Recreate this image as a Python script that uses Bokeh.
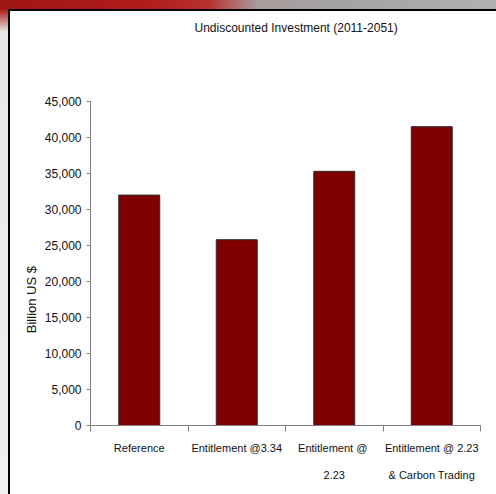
from bokeh.plotting import figure
from bokeh.models import FixedTicker, NumeralTickFormatter, Range1d, Title
from bokeh.embed import file_html
from bokeh.resources import INLINE

# ---- data ----
title_text = "Undiscounted Investment (2011-2051)"
y_label = "Billion US $"
categories = ["Reference", "Entitlement @3.34", "Entitlement  @\n2.23", "Entitlement @ 2.23\n& Carbon Trading"]
investment = [32000, 25800, 35300, 41500]
y_ticks = [0, 5000, 10000, 15000, 20000, 25000, 30000, 35000, 40000, 45000]

FONT = "Liberation Sans, Arial, sans-serif"

n = len(categories)
xc = [i + 0.5 for i in range(n)]

bg = ("linear-gradient(#ffffff,#ffffff) 10px 11px / 100% 100% no-repeat, "
      "linear-gradient(#000000,#000000) 8px 9px / 100% 100% no-repeat, "
      "linear-gradient(to right, #a01515 0%, #b01c1c 30%, #b83030 42%, #a89c9c 52%, #a4a4a4 70%, #b0b0b0 100%) 0 0 / 100% 10px no-repeat, "
      "linear-gradient(#b02020 0px, #b02020 10px, #e6e6e6 32px, #f0f0f0 100%)")

p = figure(width=496, height=494, output_backend="svg", toolbar_location=None,
           x_range=Range1d(0, n), y_range=Range1d(0, 45000),
           min_border_left=90, min_border_right=16, min_border_top=101, min_border_bottom=69,
           border_fill_color=None, background_fill_color="white", outline_line_color=None,
           styles={"background": bg})

p.vbar(x=xc, top=investment, width=0.42, fill_color="#800000", line_color="#2a2a2a", line_width=1)

# spacer panel between frame and title, then the title further out
p.add_layout(Title(text=" ", text_font_size="1px", standoff=58), "above")
p.add_layout(Title(text=title_text, align="left", offset=104, vertical_align="middle", standoff=10,
                   text_font=FONT, text_font_size="12px", text_font_style="normal",
                   text_color="#111111"), "above")

p.grid.visible = False

# y axis (label padded with non-breaking spaces so it sits lower, as in the original)
p.yaxis.ticker = FixedTicker(ticks=y_ticks)
p.yaxis.formatter = NumeralTickFormatter(format="0,0")
p.yaxis.axis_label = y_label + "\u00a0" * 20
p.yaxis.axis_label_text_font = FONT
p.yaxis.axis_label_text_font_size = "13px"
p.yaxis.axis_label_text_font_style = "normal"
p.yaxis.axis_label_text_color = "#111111"
p.yaxis.axis_label_standoff = 3
p.yaxis.major_label_text_font = FONT
p.yaxis.major_label_text_font_size = "12px"
p.yaxis.major_label_text_color = "#111111"
p.yaxis.major_label_standoff = 5
p.yaxis.major_tick_in = 0
p.yaxis.major_tick_out = 4
p.yaxis.minor_tick_out = 0
p.yaxis.axis_line_color = "#808080"
p.yaxis.major_tick_line_color = "#808080"

# x axis: labels at bar centres, ticks at category boundaries
p.xaxis.ticker = FixedTicker(ticks=xc, minor_ticks=list(range(n + 1)))
p.xaxis.major_label_overrides = {x: c for x, c in zip(xc, categories)}
p.xaxis.major_label_text_font = FONT
p.xaxis.major_label_text_font_size = "11px"
p.xaxis.major_label_text_color = "#111111"
p.xaxis.major_label_text_line_height = 2.25
p.xaxis.major_label_standoff = 10
p.xaxis.major_tick_in = 0
p.xaxis.major_tick_out = 0
p.xaxis.minor_tick_in = 0
p.xaxis.minor_tick_out = 6
p.xaxis.axis_line_color = "#808080"
p.xaxis.minor_tick_line_color = "#808080"

open("out.html", "w").write(file_html(p, INLINE))
